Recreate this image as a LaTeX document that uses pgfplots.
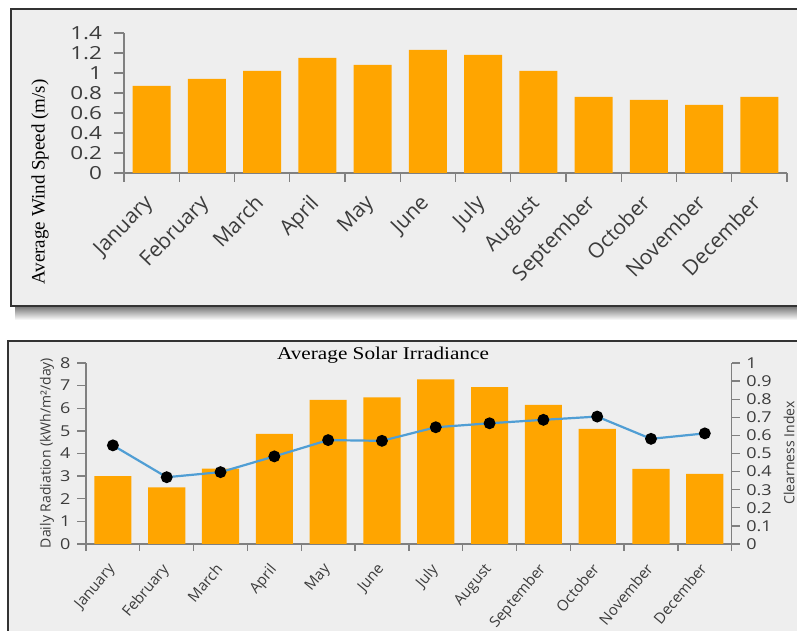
\documentclass[border=0pt]{standalone}
\usepackage{pgfplots}
\pgfplotsset{compat=1.18}
\usepackage{fontspec}
\setmainfont{Liberation Serif}
\newfontfamily\ui{Open Sans}
\definecolor{barorange}{RGB}{255,165,0}
\definecolor{panelbg}{RGB}{238,238,238}
\definecolor{axgray}{RGB}{128,128,128}
\definecolor{txt}{RGB}{60,60,60}
\definecolor{lineblue}{RGB}{80,158,212}

\pgfplotstableread{
idx wind
0 0.87
1 0.94
2 1.02
3 1.15
4 1.08
5 1.23
6 1.18
7 1.02
8 0.76
9 0.73
10 0.68
11 0.76
}\windtable

\pgfplotstableread{
idx rad clear
0 3.00 0.545
1 2.50 0.369
2 3.33 0.397
3 4.87 0.484
4 6.37 0.574
5 6.48 0.570
6 7.28 0.645
7 6.93 0.667
8 6.15 0.686
9 5.09 0.704
10 3.32 0.581
11 3.10 0.611
}\solartable

\pgfplotsset{
  panel/.style={
    scale only axis,
    anchor=south west,
    xmin=-0.5, xmax=11.5,
    axis line style={axgray, line width=1.3pt},
    tick style={axgray, line width=1.3pt},
    tick align=outside,
    major x tick style={draw=none},
    minor xtick={-0.5,0.5,...,11.5},
    xtick={0,...,11},
    xticklabels={January,February,March,April,May,June,July,August,September,October,November,December},
    /pgf/number format/assume math mode=true,
    clip=false,
  },
}

\begin{document}
\begin{tikzpicture}[x=1pt,y=1pt]
\useasboundingbox (0,0) rectangle (797,631);
% top panel
\shade[top color=black!55, bottom color=white] (15,311) rectangle (797,325);
\fill[panelbg] (11,325) rectangle (797,622);
\draw[black!80, line width=1.5pt] (797,325) -- (11,325) -- (11,622) -- (797,622);
% bottom panel
\fill[panelbg] (8,0) rectangle (797,290);
\draw[black!80, line width=1.5pt] (8,0) -- (8,290) -- (797,290);

\begin{axis}[panel,
  at={(124pt,458pt)}, width=663pt, height=140pt,
  ymin=0, ymax=1.4, ytick={0,0.2,...,1.4},
  axis x line*=bottom, axis y line*=left,
  major tick length=10pt, minor tick length=9pt,
  yticklabel style={font=\ui\fontsize{18}{18}\selectfont, text=txt, xscale=1.25, xshift=-6pt},
  xticklabel style={font=\ui\fontsize{21}{21}\selectfont, text=txt, inner sep=0pt,
    xshift=-9pt, yshift=-10pt, rotate=46, anchor=north east},
]
\addplot[ybar, bar width=0.69, fill=barorange, draw=none] table[x=idx, y=wind] {\windtable};
\end{axis}
\node[rotate=90, font=\fontsize{19}{19}\selectfont] at (40,449) {Average Wind Speed (m/s)};

\begin{axis}[panel,
  at={(86pt,87pt)}, width=645.7pt, height=181pt,
  ymin=0, ymax=8, ytick={0,1,...,8},
  axis x line*=bottom, axis y line*=left,
  major tick length=9pt, minor tick length=7pt,
  yticklabel style={font=\ui\fontsize{15}{15}\selectfont, text=txt, xscale=1.2, xshift=-2pt},
  xticklabel style={font=\ui\fontsize{15}{15}\selectfont, text=txt, inner sep=0pt,
    xshift=-6pt, yshift=-9pt, rotate=50, anchor=north east},
]
\addplot[ybar, bar width=0.69, fill=barorange, draw=none] table[x=idx, y=rad] {\solartable};
\end{axis}
\begin{axis}[
  scale only axis, anchor=south west,
  at={(86pt,87pt)}, width=645.7pt, height=181pt,
  xmin=-0.5, xmax=11.5, ymin=0, ymax=1,
  ytick={0,0.1,...,1},
  axis x line=none, axis y line*=right,
  axis line style={axgray, line width=1.3pt},
  tick style={axgray, line width=1.3pt},
  tick align=outside, major tick length=8pt,
  /pgf/number format/assume math mode=true,
  yticklabel style={font=\ui\fontsize{15}{15}\selectfont, text=txt, xscale=1.2, xshift=2pt,
    /pgf/number format/fixed, /pgf/number format/precision=1},
  clip=false,
]
\addplot[lineblue, line width=2.2pt, mark=*, mark size=4.8pt,
  mark options={fill=black, draw=black}] table[x=idx, y=clear] {\solartable};
\end{axis}
\node[rotate=90, font=\ui\fontsize{14}{14}\selectfont, text=txt] at (47,178) {Daily Radiation (kWh/m²/day)};
\node[rotate=90, font=\ui\fontsize{14}{14}\selectfont, text=txt] at (789,178) {Clearness Index};
\node[font=\fontsize{18}{18}\selectfont, xscale=1.18] at (383,276) {Average Solar Irradiance};
\end{tikzpicture}
\end{document}
